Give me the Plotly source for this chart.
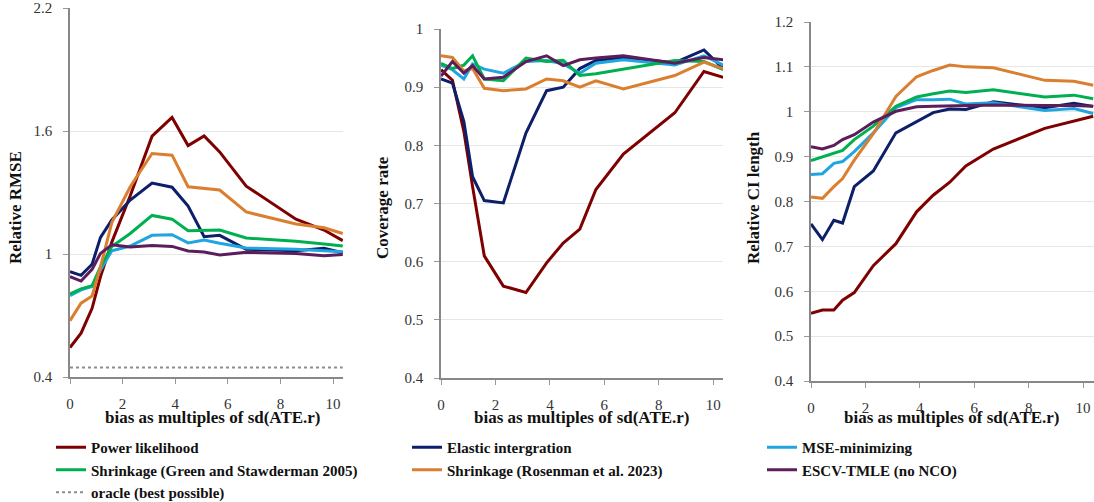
import plotly.graph_objects as go

W, H = 1094, 502

bias = [0, 0.42, 0.84, 1.16, 1.59, 2.29, 3.12, 3.88, 4.49, 5.1, 5.69, 6.7, 8.59, 9.66, 10.37]

method_names = ["Power likelihood", "Elastic intergration", "MSE-minimizing",
                "Shrinkage (Green and Stawderman 2005)", "Shrinkage (Rosenman et al. 2023)",
                "ESCV-TMLE (no NCO)"]
method_colors = ["#7f0000", "#0c1f68", "#1fa6e0", "#00b050", "#da7f2f", "#5c1d5c"]
legend_groups = ["legend", "legend2", "legend3", "legend", "legend2", "legend3"]

rmse_power = [0.544, 0.614, 0.735, 0.89, 1.058, 1.284, 1.575, 1.666, 1.529, 1.576, 1.498, 1.331, 1.17, 1.117, 1.065]
rmse_elastic = [0.914, 0.896, 0.95, 1.081, 1.166, 1.263, 1.346, 1.326, 1.234, 1.084, 1.091, 1.023, 1.016, 1.028, 1.006]
rmse_mse = [0.797, 0.825, 0.841, 0.922, 1.016, 1.039, 1.091, 1.094, 1.054, 1.068, 1.052, 1.029, 1.023, 1.015, 1.011]
rmse_green = [0.805, 0.83, 0.846, 0.938, 1.036, 1.1, 1.188, 1.17, 1.114, 1.114, 1.117, 1.078, 1.062, 1.049, 1.039]
rmse_rosenman = [0.675, 0.76, 0.795, 0.938, 1.153, 1.328, 1.49, 1.482, 1.328, 1.318, 1.312, 1.205, 1.146, 1.128, 1.1]
rmse_escv = [0.89, 0.868, 0.925, 1.003, 1.045, 1.034, 1.042, 1.037, 1.015, 1.01, 0.995, 1.008, 1.003, 0.992, 0.998]
rmse_oracle = [0.446, 0.446]
oracle_bias = [0, 10.37]

cov_power = [0.93, 0.912, 0.824, 0.729, 0.61, 0.558, 0.547, 0.598, 0.632, 0.656, 0.724, 0.785, 0.856, 0.927, 0.917]
cov_elastic = [0.914, 0.907, 0.841, 0.746, 0.705, 0.701, 0.821, 0.894, 0.9, 0.932, 0.946, 0.951, 0.942, 0.964, 0.932]
cov_mse = [0.938, 0.93, 0.914, 0.94, 0.931, 0.924, 0.944, 0.946, 0.94, 0.924, 0.941, 0.947, 0.938, 0.954, 0.938]
cov_green = [0.941, 0.932, 0.938, 0.954, 0.914, 0.911, 0.95, 0.944, 0.946, 0.92, 0.923, 0.931, 0.946, 0.944, 0.93]
cov_rosenman = [0.954, 0.951, 0.928, 0.932, 0.898, 0.894, 0.897, 0.914, 0.911, 0.9, 0.911, 0.897, 0.92, 0.943, 0.932]
cov_escv = [0.919, 0.944, 0.924, 0.937, 0.914, 0.917, 0.944, 0.954, 0.937, 0.947, 0.95, 0.954, 0.941, 0.951, 0.947]

ci_power = [0.551, 0.558, 0.558, 0.58, 0.597, 0.657, 0.706, 0.777, 0.814, 0.843, 0.879, 0.917, 0.963, 0.98, 0.99]
ci_elastic = [0.75, 0.715, 0.758, 0.752, 0.833, 0.868, 0.953, 0.977, 0.998, 1.006, 1.005, 1.022, 1.009, 1.019, 1.012]
ci_mse = [0.86, 0.862, 0.885, 0.889, 0.911, 0.953, 1.009, 1.027, 1.027, 1.028, 1.017, 1.02, 1.003, 1.007, 0.996]
ci_green = [0.891, 0.899, 0.907, 0.914, 0.938, 0.968, 1.012, 1.033, 1.04, 1.046, 1.043, 1.049, 1.033, 1.037, 1.029]
ci_rosenman = [0.81, 0.807, 0.833, 0.851, 0.892, 0.951, 1.034, 1.078, 1.092, 1.104, 1.1, 1.098, 1.07, 1.068, 1.059]
ci_escv = [0.922, 0.917, 0.925, 0.938, 0.949, 0.977, 1.001, 1.011, 1.012, 1.013, 1.014, 1.015, 1.014, 1.014, 1.012]

rmse_ticks = [0.4, 1, 1.6, 2.2]
rmse_ticktext = ["0.4", "1", "1.6", "2.2"]
cov_ticks = [0.4, 0.5, 0.6, 0.7, 0.8, 0.9, 1]
cov_ticktext = ["0.4", "0.5", "0.6", "0.7", "0.8", "0.9", "1"]
ci_ticks = [0.4, 0.5, 0.6, 0.7, 0.8, 0.9, 1, 1.1, 1.2]
ci_ticktext = ["0.4", "0.5", "0.6", "0.7", "0.8", "0.9", "1", "1.1", "1.2"]
x_ticks = [0, 2, 4, 6, 8, 10]
x_ticktext = ["0", "2", "4", "6", "8", "10"]

y_titles = ["Relative RMSE", "Coverage rate", "Relative CI length"]
x_title = "bias as multiples of sd(ATE.r)"
oracle_name = "oracle (best possible)"

panels = [
    [rmse_power, rmse_elastic, rmse_mse, rmse_green, rmse_rosenman, rmse_escv],
    [cov_power, cov_elastic, cov_mse, cov_green, cov_rosenman, cov_escv],
    [ci_power, ci_elastic, ci_mse, ci_green, ci_rosenman, ci_escv],
]

def fx(p):
    return p / W

def fy(p):
    return 1 - p / H

# pixel layout of the three panels: (left, right, top, bottom)
boxes = [(70, 343, 8, 377), (441, 723, 29, 378), (811, 1094, 22, 381)]
y_ranges = [[0.4, 2.2], [0.4, 1.0], [0.4, 1.2]]
x_ranges = [[0, 10.38], [0, 10.36], [0, 10.4]]
ytick_sets = [(rmse_ticks, rmse_ticktext), (cov_ticks, cov_ticktext), (ci_ticks, ci_ticktext)]
xtitle_offset = [6, 0, -1]
ytitle_x = [15, 382, 753]
ytitle_y = [208, 208, 198]

SERIF = "Liberation Serif"
fig = go.Figure()

for i, series in enumerate(panels):
    xa = "x" if i == 0 else f"x{i+1}"
    ya = "y" if i == 0 else f"y{i+1}"
    for j, vals in enumerate(series):
        fig.add_trace(go.Scatter(
            x=bias, y=vals, mode="lines", name=method_names[j],
            line=dict(color=method_colors[j], width=3),
            xaxis=xa, yaxis=ya, showlegend=(i == 0), legend=legend_groups[j],
        ))
    if i == 0:
        fig.add_trace(go.Scatter(
            x=oracle_bias, y=rmse_oracle, mode="lines", name=oracle_name,
            line=dict(color="#8c8c8c", width=2, dash="dot"),
            xaxis=xa, yaxis=ya, showlegend=True, legend="legend",
        ))

layout = dict(
    width=W, height=H, margin=dict(l=0, r=0, t=0, b=0, autoexpand=False),
    paper_bgcolor="white", plot_bgcolor="white",
    font=dict(family=SERIF, size=14, color="#222"),
)

for i, (l, r, t, b) in enumerate(boxes):
    sx = "xaxis" if i == 0 else f"xaxis{i+1}"
    sy = "yaxis" if i == 0 else f"yaxis{i+1}"
    ya = "y" if i == 0 else f"y{i+1}"
    xa = "x" if i == 0 else f"x{i+1}"
    layout[sx] = dict(
        domain=[fx(l), fx(r)], range=x_ranges[i], anchor=ya, automargin=False,
        tickvals=x_ticks, ticktext=x_ticktext, ticks="outside", ticklen=5,
        tickcolor="#999", showline=True, linecolor="#888", linewidth=1.5,
        showgrid=False, zeroline=False, ticklabelstandoff=7,
        tickfont=dict(family=SERIF, size=15, color="#333"),
    )
    layout[sy] = dict(
        domain=[fy(b), fy(t)], range=y_ranges[i], anchor=xa, automargin=False,
        tickvals=ytick_sets[i][0], ticktext=ytick_sets[i][1], ticks="outside",
        ticklen=5, tickcolor="#999", showline=True, linecolor="#888", linewidth=1.5,
        showgrid=True, gridcolor="#e6e6e6", gridwidth=1, zeroline=False,
        ticklabelstandoff=8,
        tickfont=dict(family=SERIF, size=15, color="#333"),
    )

annotations = []
for i, (l, r, t, b) in enumerate(boxes):
    annotations.append(dict(
        text=f"<b>{x_title}</b>", x=fx((l + r) / 2 + xtitle_offset[i]), y=fy(417),
        xref="paper", yref="paper",
        showarrow=False, xanchor="center", yanchor="middle",
        font=dict(family=SERIF, size=17, color="#111"),
    ))
    annotations.append(dict(
        text=f"<b>{y_titles[i]}</b>", x=fx(ytitle_x[i]), y=fy(ytitle_y[i]),
        xref="paper", yref="paper",
        showarrow=False, xanchor="center", yanchor="middle", textangle=-90,
        font=dict(family=SERIF, size=17, color="#111"),
    ))
layout["annotations"] = annotations

legend_common = dict(
    orientation="v", xanchor="left", yanchor="top", bgcolor="rgba(0,0,0,0)",
    font=dict(family=SERIF, size=15, color="#111", weight="bold"),
    itemwidth=30, tracegroupgap=0, y=fy(431),
)
layout["legend"] = dict(legend_common, x=fx(51))
layout["legend2"] = dict(legend_common, x=fx(407))
layout["legend3"] = dict(legend_common, x=fx(762))

fig.update_layout(**layout)
fig.write_html("out.html")
